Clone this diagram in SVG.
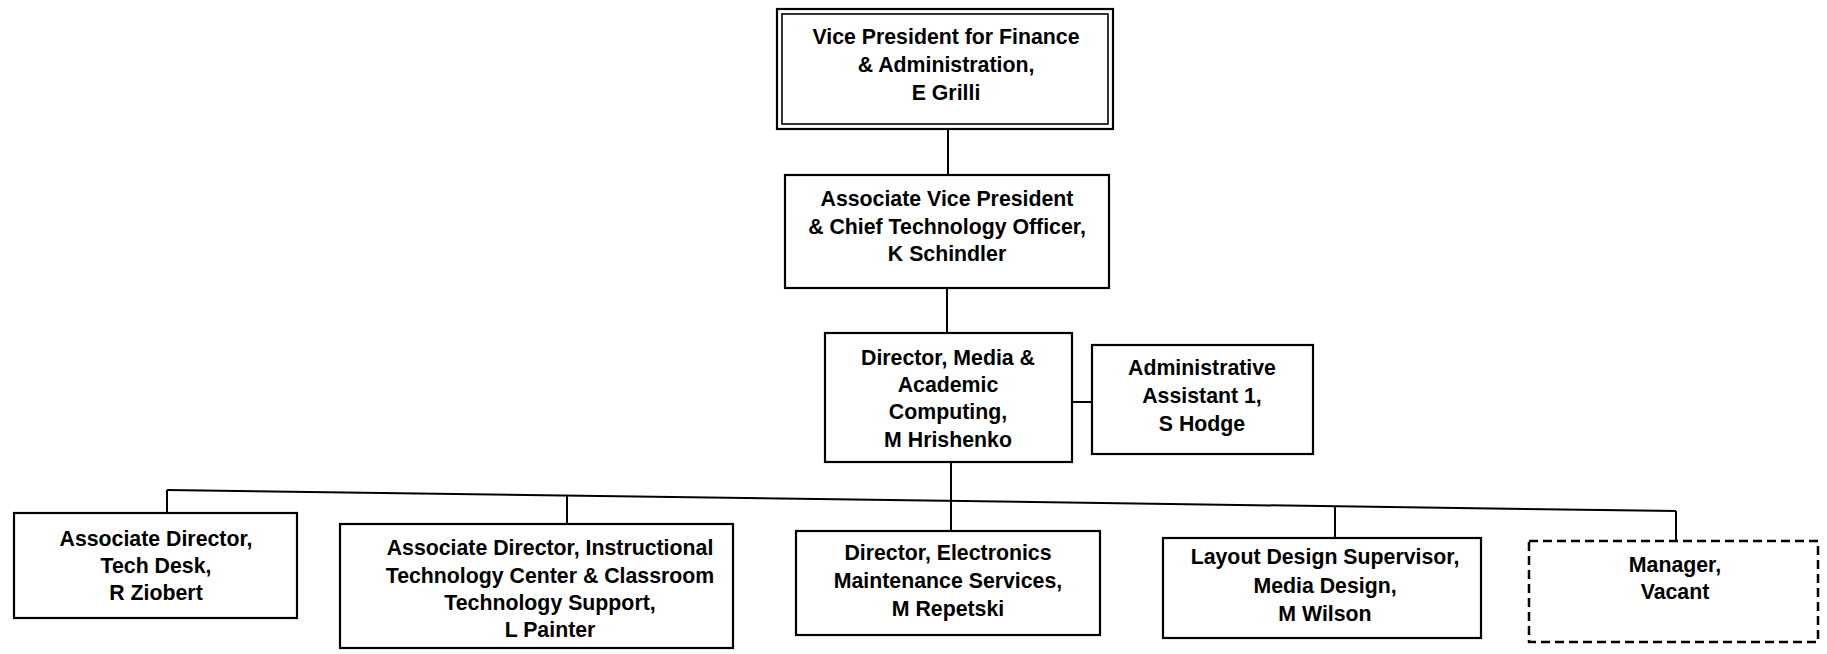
<svg xmlns="http://www.w3.org/2000/svg" width="1827" height="654" viewBox="0 0 1827 654">
<style>
.box{fill:#fff;stroke:#000;stroke-width:2.2}
.inner{fill:none;stroke:#000;stroke-width:1.6}
.dash{fill:#fff;stroke:#000;stroke-width:2.5;stroke-dasharray:9 5}
.ln{fill:none;stroke:#000;stroke-width:2}
text{font-family:"Liberation Sans",Arial,sans-serif;font-weight:bold;font-size:21.3px;fill:#000;text-anchor:middle}
</style>
<rect width="1827" height="654" fill="#fff"/>
<g id="connectors">
<line class="ln" x1="948" y1="129" x2="948" y2="175"/>
<line class="ln" x1="947" y1="288" x2="947" y2="333"/>
<line class="ln" x1="1072" y1="402" x2="1092" y2="402"/>
<line class="ln" x1="951" y1="462" x2="951" y2="531"/>
<line class="ln" x1="167" y1="490" x2="1676" y2="511"/>
<line class="ln" x1="167" y1="490" x2="167" y2="513"/>
<line class="ln" x1="567" y1="495.6" x2="567" y2="524"/>
<line class="ln" x1="1335" y1="506.3" x2="1335" y2="538"/>
<line class="ln" x1="1676" y1="511" x2="1676" y2="541"/>
</g>
<g id="vp">
<rect class="box" x="777" y="9" width="336" height="120"/>
<rect class="inner" x="782" y="14" width="326" height="110"/>
<text x="946" y="44">Vice President for Finance</text>
<text x="946" y="72">&amp; Administration,</text>
<text x="946" y="100">E Grilli</text>
</g>
<g id="avp">
<rect class="box" x="785" y="175" width="324" height="113"/>
<text x="947" y="206">Associate Vice President</text>
<text x="947" y="234">&amp; Chief Technology Officer,</text>
<text x="947" y="261">K Schindler</text>
</g>
<g id="director">
<rect class="box" x="825" y="333" width="247" height="129"/>
<text x="948" y="365">Director, Media &amp;</text>
<text x="948" y="392">Academic</text>
<text x="948" y="419">Computing,</text>
<text x="948" y="447">M Hrishenko</text>
</g>
<g id="admin">
<rect class="box" x="1092" y="345" width="221" height="109"/>
<text x="1202" y="375">Administrative</text>
<text x="1202" y="403">Assistant 1,</text>
<text x="1202" y="431">S Hodge</text>
</g>
<g id="techdesk">
<rect class="box" x="14" y="513" width="283" height="105"/>
<text x="156" y="546">Associate Director,</text>
<text x="156" y="573">Tech Desk,</text>
<text x="156" y="600">R Ziobert</text>
</g>
<g id="itc">
<rect class="box" x="340" y="524" width="393" height="124"/>
<text x="550" y="555">Associate Director, Instructional</text>
<text x="550" y="582.5">Technology Center &amp; Classroom</text>
<text x="550" y="610">Technology Support,</text>
<text x="550" y="637">L Painter</text>
</g>
<g id="electronics">
<rect class="box" x="796" y="531" width="304" height="104"/>
<text x="948" y="560">Director, Electronics</text>
<text x="948" y="588">Maintenance Services,</text>
<text x="948" y="616">M Repetski</text>
</g>
<g id="layout">
<rect class="box" x="1163" y="538" width="318" height="100"/>
<text x="1325" y="564">Layout Design Supervisor,</text>
<text x="1325" y="593">Media Design,</text>
<text x="1325" y="621">M Wilson</text>
</g>
<g id="manager">
<rect class="dash" x="1529" y="541" width="289" height="101"/>
<text x="1675" y="572">Manager,</text>
<text x="1675" y="599">Vacant</text>
</g>
</svg>
